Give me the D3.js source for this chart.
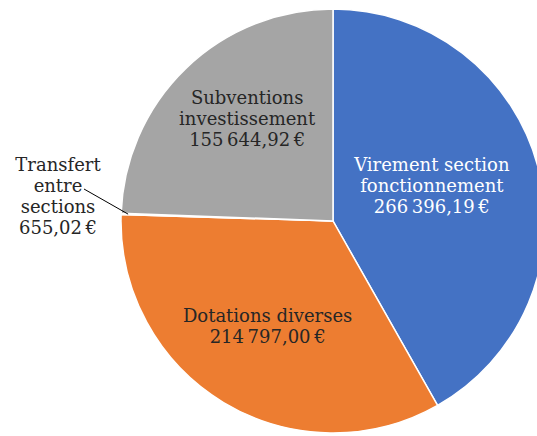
<!DOCTYPE html>
<html>
<head>
<meta charset="utf-8">
<script src="https://cdn.jsdelivr.net/npm/d3@7"></script>
<style>
  html, body { margin: 0; padding: 0; background: #fff; overflow: hidden; }
  svg { display: block; }
  text { font-family: 'DejaVu Serif', serif; font-size: 18px; }
</style>
</head>
<body>
<div id="chart"></div>
<script>
// slices, clockwise from 12 o'clock
const categories = ['Virement section fonctionnement', 'Dotations diverses', 'Transfert entre sections', 'Subventions investissement'];
const values = [266396.19, 214797.00, 655.02, 155644.92];
const labelLines = [
  ['Virement section', 'fonctionnement'],
  ['Dotations diverses'],
  ['Transfert', 'entre', 'sections'],
  ['Subventions', 'investissement']
];
const colors = ['#4472C4', '#ED7D31', '#FFC000', '#A5A5A5'];
const textColors = ['#ffffff', '#262626', '#262626', '#262626'];

const width = 537, height = 436;
const cx = 333, cy = 221, radius = 212;
const lineH = 21;

const euro = d3.formatLocale({ decimal: ',', thousands: '\u2009', grouping: [3], currency: ['', '\u2009€'] });
const fmt = euro.format('$,.2f');

const svg = d3.select('#chart').append('svg')
  .attr('width', width)
  .attr('height', height);

const g = svg.append('g').attr('transform', `translate(${cx},${cy})`);

const pie = d3.pie().sort(null).value(d => d)(values);
const arc = d3.arc().innerRadius(0).outerRadius(radius);
const labelArc = d3.arc().innerRadius(radius * 0.57).outerRadius(radius * 0.57);

g.selectAll('path.slice')
  .data(pie)
  .enter()
  .append('path')
  .attr('class', 'slice')
  .attr('d', arc)
  .attr('fill', (d, i) => colors[i])
  .attr('stroke', '#fff')
  .attr('stroke-width', 1.5);

// small layout tweaks so the labels sit where the original put them
const nudge = [[-18, -5], [-3, 1], null, [-2, -16]];

function drawLabel(x, y, lines, color) {
  const n = lines.length;
  const t = g.append('text')
    .attr('text-anchor', 'middle')
    .attr('fill', color);
  lines.forEach((s, k) => {
    t.append('tspan')
      .attr('x', x)
      .attr('y', y + (k - (n - 1) / 2) * lineH + 7)
      .text(s);
  });
}

pie.forEach((d, i) => {
  const lines = labelLines[i].concat([fmt(values[i])]);
  if (nudge[i]) {
    const [lx, ly] = labelArc.centroid(d);
    drawLabel(lx + nudge[i][0], ly + nudge[i][1], lines, textColors[i]);
  } else {
    // outside label with leader line
    const a = (d.startAngle + d.endAngle) / 2;
    const ex = Math.sin(a) * (radius - 7), ey = -Math.cos(a) * (radius - 7);
    g.append('line')
      .attr('x1', 84 - cx).attr('y1', 189 - cy)
      .attr('x2', ex).attr('y2', ey)
      .attr('stroke', '#000')
      .attr('stroke-width', 1);
    drawLabel(58 - cx, 195 - cy, lines, textColors[i]);
  }
});
</script>
</body>
</html>
